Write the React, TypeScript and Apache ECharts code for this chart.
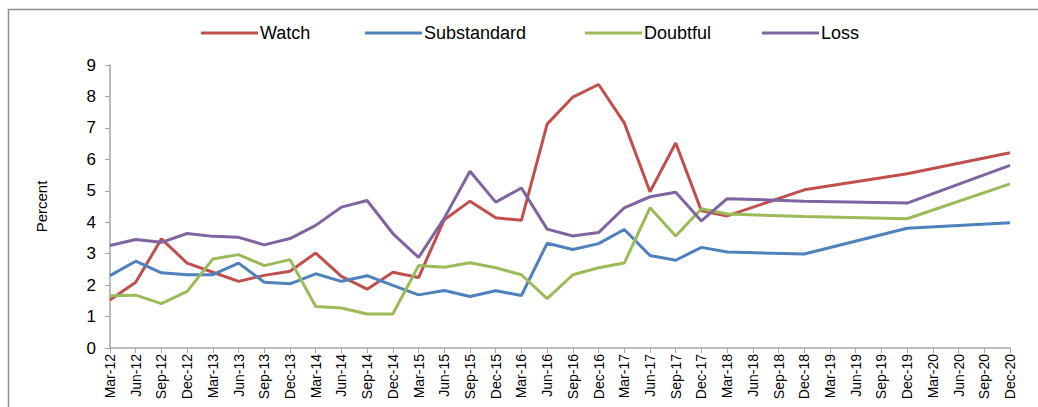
import React, { useEffect, useRef } from "react";
import * as echarts from "echarts";

const categories = [
  "Mar-12", "Jun-12", "Sep-12", "Dec-12", "Mar-13", "Jun-13", "Sep-13", "Dec-13",
  "Mar-14", "Jun-14", "Sep-14", "Dec-14", "Mar-15", "Jun-15", "Sep-15", "Dec-15",
  "Mar-16", "Jun-16", "Sep-16", "Dec-16", "Mar-17", "Jun-17", "Sep-17", "Dec-17",
  "Mar-18", "Jun-18", "Sep-18", "Dec-18", "Mar-19", "Jun-19", "Sep-19", "Dec-19",
  "Mar-20", "Jun-20", "Sep-20", "Dec-20",
];

const watch = [
  1.53, 2.09, 3.47, 2.7, 2.41, 2.12, 2.31, 2.44, 3.02, 2.28, 1.87, 2.41,
  2.24, 4.08, 4.67, 4.14, 4.06, 7.12, 7.98, 8.38, 7.16, 4.97, 6.52, 4.36,
  4.2, null, null, 5.03, null, null, null, 5.54, null, null, null, 6.21,
];

const substandard = [
  2.3, 2.76, 2.39, 2.33, 2.33, 2.7, 2.09, 2.04, 2.36, 2.12, 2.3, 1.99,
  1.69, 1.83, 1.64, 1.82, 1.67, 3.33, 3.13, 3.32, 3.77, 2.94, 2.79, 3.2,
  3.05, null, null, 2.99, null, null, null, 3.81, null, null, null, 3.98,
];

const doubtful = [
  1.66, 1.68, 1.41, 1.8, 2.83, 2.97, 2.62, 2.81, 1.32, 1.27, 1.08, 1.08,
  2.62, 2.57, 2.71, 2.55, 2.33, 1.57, 2.33, 2.55, 2.7, 4.46, 3.56, 4.43,
  4.26, null, null, 4.18, null, null, null, 4.11, null, null, null, 5.22,
];

const loss = [
  3.26, 3.45, 3.36, 3.64, 3.55, 3.52, 3.28, 3.48, 3.9, 4.48, 4.69, 3.64,
  2.88, 4.13, 5.62, 4.64, 5.09, 3.78, 3.56, 3.67, 4.46, 4.81, 4.95, 4.04,
  4.75, null, null, 4.67, null, null, null, 4.61, null, null, null, 5.81,
];

const seriesNames = ["Watch", "Substandard", "Doubtful", "Loss"];
const seriesColors = ["#C0504D", "#4F81BD", "#9BBB59", "#8064A2"];
const legendLefts = [201, 365, 585, 762];
const yTicks = [0, 1, 2, 3, 4, 5, 6, 7, 8, 9];

export default function App() {
  const ref = useRef<HTMLDivElement>(null);

  useEffect(() => {
    document.body.style.margin = "0";
    if (!ref.current) return;
    const chart = echarts.init(ref.current, undefined, { renderer: "svg" });
    const font = "'Liberation Sans', Arial, sans-serif";
    const data = [watch, substandard, doubtful, loss];
    chart.setOption({
      animation: false,
      backgroundColor: "#ffffff",
      textStyle: { fontFamily: font },
      graphic: [
        {
          type: "rect",
          shape: { x: 8.5, y: 9.5, width: 1040, height: 410 },
          style: { fill: "none", stroke: "#8f8f8f", lineWidth: 1.5 },
          silent: true,
        },
      ],
      legend: seriesNames.map((name, i) => ({
        top: 24,
        left: legendLefts[i],
        padding: 0,
        itemWidth: 57,
        itemHeight: 3,
        itemGap: 0,
        icon: "rect",
        textStyle: { fontFamily: font, fontSize: 18, color: "#000", padding: [0, 0, 0, -3] },
        data: [name],
      })),
      grid: { left: 110, right: 28, top: 65, bottom: 59, containLabel: false },
      xAxis: {
        type: "category",
        data: categories,
        boundaryGap: false,
        axisLine: { lineStyle: { color: "#a6a6a6", width: 1.5 } },
        axisTick: { show: true, length: 5, lineStyle: { color: "#a6a6a6" } },
        axisLabel: {
          interval: 0,
          rotate: 90,
          fontSize: 14,
          color: "#000",
          fontFamily: font,
          margin: 6,
        },
        splitLine: { show: false },
      },
      yAxis: {
        type: "value",
        min: yTicks[0],
        max: yTicks[yTicks.length - 1],
        interval: 1,
        name: "Percent",
        nameLocation: "middle",
        nameGap: 61,
        nameRotate: 90,
        nameTextStyle: { fontSize: 15, color: "#000", fontFamily: font },
        axisLine: { show: true, lineStyle: { color: "#a6a6a6", width: 1.5 } },
        axisTick: { show: true, length: 5, lineStyle: { color: "#a6a6a6" } },
        axisLabel: { fontSize: 17, color: "#000", fontFamily: font, margin: 14 },
        splitLine: { show: false },
      },
      series: seriesNames.map((name, i) => ({
        name,
        type: "line",
        data: data[i],
        connectNulls: true,
        showSymbol: false,
        symbol: "none",
        color: seriesColors[i],
        lineStyle: { width: 3, color: seriesColors[i] },
      })),
    });
    return () => chart.dispose();
  }, []);

  return <div ref={ref} style={{ width: 1038, height: 407 }} />;
}
